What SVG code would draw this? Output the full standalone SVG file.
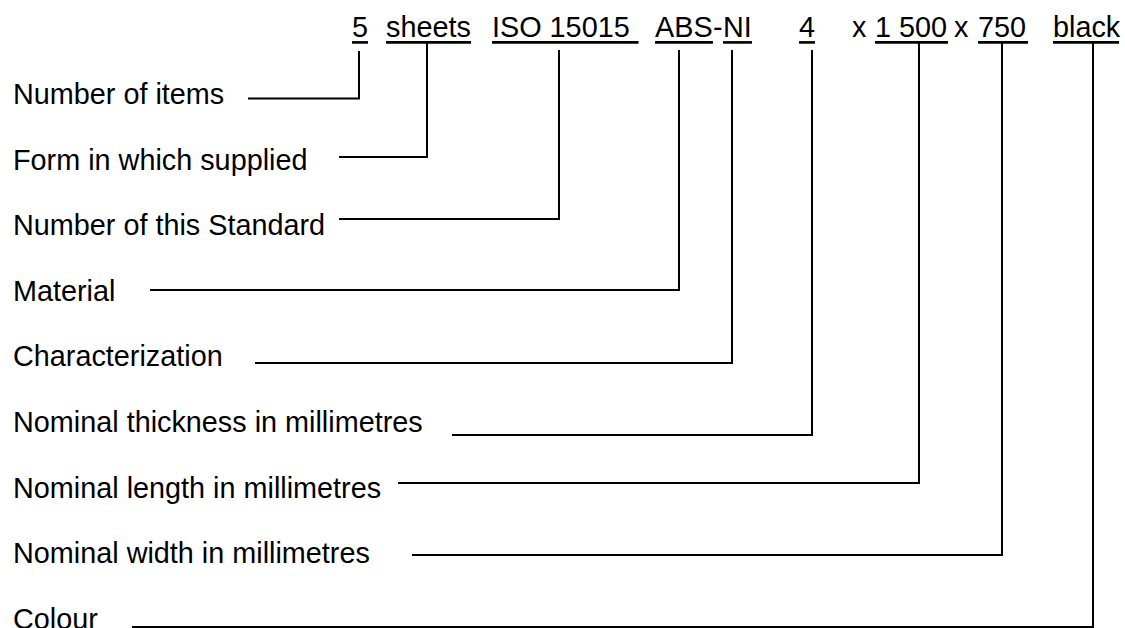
<svg xmlns="http://www.w3.org/2000/svg" width="1125" height="628" viewBox="0 0 1125 628">
<style>
text{font-family:"Liberation Sans",Arial,sans-serif;font-size:28.8px;fill:#000}
.u{stroke:#000;stroke-width:2.6}
.c{fill:none;stroke:#000;stroke-width:2}
</style>
<rect width="1125" height="628" fill="#fff"/>
<g id="designation">
<g id="t-5"><text x="352" y="37">5</text><line class="u" x1="352" y1="42.4" x2="368" y2="42.4"/></g>
<g id="t-sheets"><text x="386" y="37">sheets</text><line class="u" x1="386" y1="42.4" x2="471" y2="42.4"/></g>
<g id="t-iso"><text x="492" y="37">ISO 15015</text><line class="u" x1="492" y1="42.4" x2="638.5" y2="42.4"/></g>
<g id="t-abs"><text x="655" y="37">ABS</text><line class="u" x1="655" y1="42.4" x2="713" y2="42.4"/></g>
<g id="t-dash"><text x="713" y="37">-</text></g>
<g id="t-ni"><text x="723" y="37">NI</text><line class="u" x1="723" y1="42.4" x2="752" y2="42.4"/></g>
<g id="t-4"><text x="799" y="37">4</text><line class="u" x1="799" y1="42.4" x2="815" y2="42.4"/></g>
<g id="t-x1"><text x="852" y="37">x</text></g>
<g id="t-1500"><text x="875" y="37">1 500</text><line class="u" x1="875" y1="42.4" x2="948" y2="42.4"/></g>
<g id="t-x2"><text x="954" y="37">x</text></g>
<g id="t-750"><text x="978" y="37">750</text><line class="u" x1="978" y1="42.4" x2="1028" y2="42.4"/></g>
<g id="t-black"><text x="1053" y="37">black</text><line class="u" x1="1053" y1="42.4" x2="1119" y2="42.4"/></g>
</g>
<g id="labels">
<g id="l-items"><text x="13" y="104">Number of items</text></g>
<g id="l-form"><text x="13" y="170">Form in which supplied</text></g>
<g id="l-standard"><text x="13" y="235">Number of this Standard</text></g>
<g id="l-material"><text x="13" y="301">Material</text></g>
<g id="l-char"><text x="13" y="366">Characterization</text></g>
<g id="l-thickness"><text x="13" y="432">Nominal thickness in millimetres</text></g>
<g id="l-length"><text x="13" y="498">Nominal length in millimetres</text></g>
<g id="l-width"><text x="13" y="563">Nominal width in millimetres</text></g>
<g id="l-colour"><text x="13" y="629">Colour</text></g>
</g>
<g id="connectors">
<polyline class="c" points="248,98.5 359,98.5 359,51"/>
<polyline class="c" points="339,157 427,157 427,43"/>
<polyline class="c" points="339,219 559,219 559,50"/>
<polyline class="c" points="150,290 679,290 679,50"/>
<polyline class="c" points="255,363 732,363 732,50"/>
<polyline class="c" points="452,435 812,435 812,50"/>
<polyline class="c" points="398,483 919,483 919,43"/>
<polyline class="c" points="412,555 1002,555 1002,43"/>
<polyline class="c" points="132,627 1093,627 1093,43"/>
</g>
</svg>
